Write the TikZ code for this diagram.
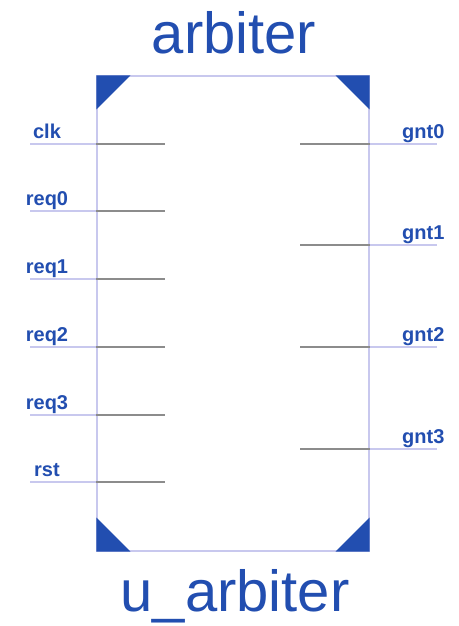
\documentclass[tikz,border=0pt]{standalone}
\usepackage{fontspec}
\setmainfont{Liberation Sans}
\definecolor{pinblue}{RGB}{34,78,176}
\definecolor{boxline}{RGB}{200,200,238}
\definecolor{stubgrey}{RGB}{140,140,140}
\begin{document}
\begin{tikzpicture}[x=1pt,y=-1pt,
  title/.style={font=\fontsize{58}{58}\selectfont, text=pinblue, inner sep=0pt, anchor=base},
  pinlabel/.style={font=\fontsize{20}{20}\selectfont\bfseries, text=pinblue, inner sep=0pt, anchor=base},
  pinlabelr/.style={font=\fontsize{20}{20}\selectfont\bfseries, text=pinblue, inner sep=0pt, anchor=base west},
  outline/.style={draw=boxline, line width=1.1pt},
  stub/.style={draw=stubgrey, line width=1.1pt},
  corner/.style={fill=pinblue, draw=none}]
\useasboundingbox (0,0) rectangle (458,626);
\fill[white] (0,0) rectangle (458,626);
% body
\node[outline, rectangle, minimum width=272pt, minimum height=475pt, inner sep=0pt] (body) at (233,313.5) {};
% corner triangles
\fill[corner] (body.north west) -- ++(34,0) -- ++(-34,34) -- cycle;
\fill[corner] (body.north east) -- ++(-34,0) -- ++(34,34) -- cycle;
\fill[corner] (body.south west) -- ++(34,0) -- ++(-34,-34) -- cycle;
\fill[corner] (body.south east) -- ++(-34,0) -- ++(34,-34) -- cycle;
% titles
\node[title] (tname) at (234,53) {arbiter};
\node[title] (iname) at (235,611) {u\_arbiter};
% left pins
\foreach \name/\y in {clk/144,req0/211,req1/279,req2/347,req3/415,rst/482}{
  \coordinate (\name-out) at (30,\y);
  \coordinate (\name-in) at (body.west |- 0,\y);
  \coordinate (\name-end) at (165,\y);
  \draw[outline] (\name-out) -- (\name-in);
  \draw[stub] (\name-in) -- (\name-end);
  \node[pinlabel] (\name-lbl) at (47,\y-6) {\name};
}
% right pins
\foreach \name/\y in {gnt0/144,gnt1/245,gnt2/347,gnt3/449}{
  \coordinate (\name-out) at (437,\y);
  \coordinate (\name-in) at (body.east |- 0,\y);
  \coordinate (\name-end) at (300,\y);
  \draw[outline] (\name-in) -- (\name-out);
  \draw[stub] (\name-end) -- (\name-in);
  \node[pinlabelr] (\name-lbl) at (402,\y-6) {\name};
}
\end{tikzpicture}
\end{document}
